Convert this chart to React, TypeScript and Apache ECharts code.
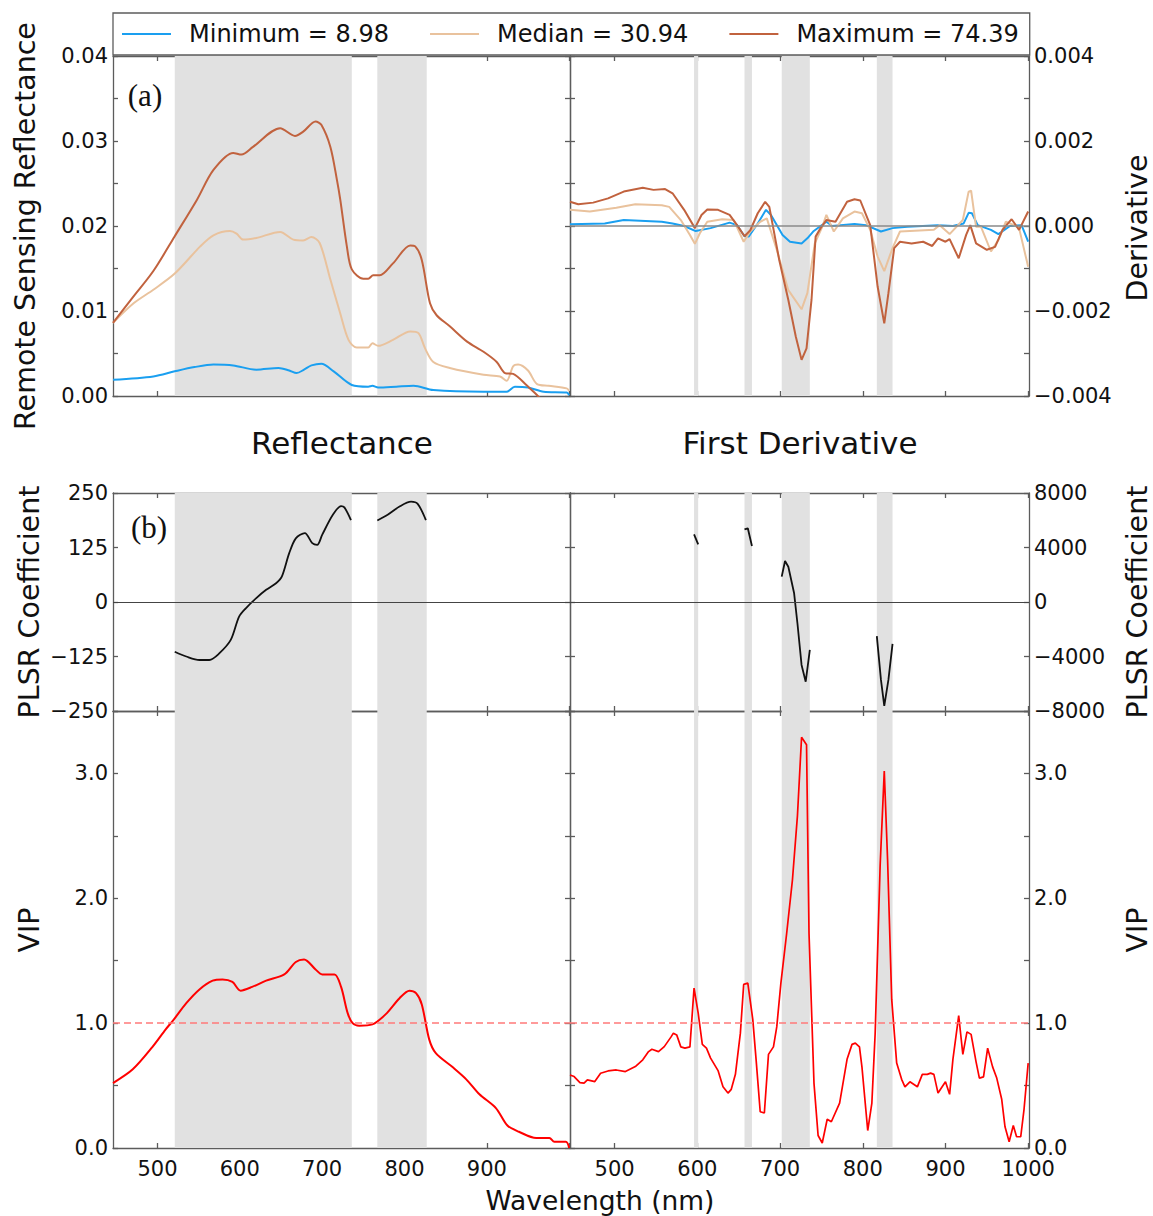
import React, { useEffect, useRef } from "react";
import * as echarts from "echarts";

const FONT = "DejaVu Sans";
const SERIF = "Liberation Serif";
const X_MIN = 446;
const X_MAX = 1001;

const NAME_MIN = "Minimum = 8.98";
const NAME_MED = "Median = 30.94";
const NAME_MAX = "Maximum = 74.39";

const COLOR_MIN = "#1A9FF0";
const COLOR_MED = "#E9C29D";
const COLOR_MAX = "#C1623E";

// ---------- shaded wavelength bands ----------
const bandsLeft = [[521, 736], [767, 827]];
const bandsRight = [[596, 601], [657, 666], [702, 736], [817, 836]];

// ---------- Reflectance (top-left) ----------
const reflMaxWl = [446, 470, 495, 521, 548, 568, 592, 602, 616, 649, 667, 677, 692, 699, 710, 718, 722, 730, 736, 750, 756, 762, 770, 786, 807, 813, 821, 831, 839, 855, 876, 896, 912, 922, 932, 948, 962, 975];
const reflMaxVal = [0.0086, 0.0116, 0.0147, 0.0188, 0.0231, 0.0266, 0.0286, 0.0284, 0.0293, 0.0315, 0.0306, 0.0311, 0.0323, 0.0319, 0.0293, 0.0254, 0.0231, 0.0176, 0.0149, 0.0138, 0.0138, 0.0142, 0.0142, 0.0156, 0.0177, 0.0176, 0.0160, 0.0109, 0.0095, 0.0082, 0.0064, 0.0052, 0.0040, 0.0027, 0.0026, 0.0013, 0.0000, -0.0012];

const reflMedWl = [446, 471, 495, 521, 552, 568, 588, 596, 604, 620, 649, 665, 677, 687, 697, 710, 722, 732, 742, 756, 761, 768, 786, 807, 817, 825, 835, 855, 896, 916, 924, 932, 938, 950, 961, 975, 997, 1000];
const reflMedVal = [0.0086, 0.0109, 0.0125, 0.0144, 0.0176, 0.0189, 0.0194, 0.0191, 0.0184, 0.0186, 0.0193, 0.0184, 0.0183, 0.0187, 0.0180, 0.0137, 0.0097, 0.0066, 0.0057, 0.0057, 0.0062, 0.0059, 0.0066, 0.0076, 0.0074, 0.0056, 0.0040, 0.0033, 0.0025, 0.0023, 0.0018, 0.0035, 0.0037, 0.0030, 0.0014, 0.0012, 0.0009, 0.0006];

const reflMinWl = [446, 495, 521, 545, 568, 592, 620, 647, 660, 669, 678, 687, 699, 714, 736, 756, 761, 768, 790, 811, 835, 896, 924, 934, 950, 969, 997, 1000];
const reflMinVal = [0.0019, 0.0023, 0.0029, 0.0034, 0.0037, 0.0036, 0.0031, 0.0033, 0.0030, 0.0027, 0.0031, 0.0036, 0.0038, 0.0029, 0.0013, 0.0011, 0.0012, 0.0010, 0.0011, 0.0012, 0.0007, 0.0005, 0.0005, 0.0011, 0.0010, 0.0005, 0.0004, 0.0001];

// ---------- First derivative (top-right) ----------
const derMaxWl = [446, 456, 474, 492, 511, 534, 547, 561, 570, 584, 597, 605, 612, 625, 639, 648, 657, 664, 673, 682, 687, 699, 710, 719, 726, 732, 738, 743, 749, 756, 767, 781, 790, 797, 809, 818, 826, 831, 838, 845, 859, 873, 884, 891, 900, 905, 916, 925, 930, 937, 950, 960, 969, 980, 989, 1000];
const derMaxVal = [0.00057, 0.00051, 0.00055, 0.00065, 0.00081, 0.00090, 0.00085, 0.00087, 0.00077, 0.00038, -0.00005, 0.00026, 0.00039, 0.00038, 0.00026, 0.00002, -0.00024, -0.00010, 0.00030, 0.00057, 0.00045, -0.00080, -0.00174, -0.00260, -0.00315, -0.00288, -0.00174, -0.00025, -0.00005, 0.00014, 0.00010, 0.00057, 0.00063, 0.00060, 0.00002, -0.00143, -0.00229, -0.00158, -0.00052, -0.00037, -0.00041, -0.00037, -0.00047, -0.00029, -0.00037, -0.00031, -0.00076, -0.00021, 0.00002, -0.00041, -0.00056, -0.00049, -0.00009, 0.00016, -0.00009, 0.00034];

const derMedWl = [446, 470, 502, 525, 557, 566, 580, 591, 597, 603, 612, 630, 644, 656, 664, 676, 684, 696, 710, 726, 733, 742, 751, 756, 765, 776, 790, 799, 809, 818, 826, 836, 845, 863, 886, 893, 905, 921, 928, 931, 937, 943, 955, 964, 973, 983, 989, 1000];
const derMedVal = [0.00038, 0.00034, 0.00043, 0.00051, 0.00049, 0.00045, 0.00014, -0.00021, -0.00042, -0.00017, 0.00010, 0.00016, 0.00014, -0.00037, -0.00013, 0.00010, 0.00018, -0.00056, -0.00151, -0.00196, -0.00158, -0.00041, -0.00002, 0.00026, -0.00013, 0.00018, 0.00034, 0.00030, -0.00009, -0.00072, -0.00106, -0.00052, -0.00013, -0.00011, -0.00009, 0.00002, -0.00019, 0.00014, 0.00081, 0.00083, -0.00002, -0.00002, -0.00060, -0.00033, 0.00010, 0.00002, -0.00005, -0.00096];

const derMinWl = [446, 488, 511, 557, 570, 584, 598, 616, 639, 648, 657, 662, 673, 683, 689, 703, 712, 726, 733, 740, 749, 756, 763, 790, 804, 822, 836, 854, 891, 909, 922, 928, 932, 939, 955, 964, 978, 992, 1000];
const derMinVal = [0.00004, 0.00006, 0.00014, 0.00010, 0.00006, 0.0, -0.00012, -0.00005, 0.00008, 0.00002, -0.00024, -0.00025, 0.00006, 0.00038, 0.00026, -0.00021, -0.00037, -0.00041, -0.00029, -0.00013, 0.0, 0.00010, 0.0, 0.00005, 0.00002, -0.00013, -0.00005, -0.00002, 0.00002, 0.0, 0.00006, 0.00031, 0.00030, 0.00002, -0.00009, -0.00019, 0.0, 0.00002, -0.00037];

// ---------- PLSR coefficients ----------
const plsrReflSeg1Wl = [521, 535, 551, 563, 575, 589, 599, 607, 620, 632, 644, 651, 660, 668, 679, 688, 694, 700, 713, 723, 727, 735];
const plsrReflSeg1Val = [-114, -125, -133, -133, -118, -87, -34, -15, 9, 28, 43, 58, 112, 146, 158, 135, 131, 154, 200, 220, 217, 188];
const plsrReflSeg2Wl = [767, 777, 794, 808, 816, 826];
const plsrReflSeg2Val = [187, 197, 219, 230, 225, 188];

const plsrDerSeg1Wl = [596, 601];
const plsrDerSeg1Val = [4970, 4230];
const plsrDerSeg2Wl = [657, 661, 666];
const plsrDerSeg2Val = [5330, 5410, 4110];
const plsrDerSeg3Wl = [702, 706, 710, 717, 721, 726, 731, 736];
const plsrDerSeg3Val = [1860, 3010, 2590, 640, -1560, -4620, -5850, -3520];
const plsrDerSeg4Wl = [817, 822, 826, 831, 836];
const plsrDerSeg4Val = [-2500, -5720, -7630, -5720, -3080];

// ---------- VIP ----------
const vipReflWl = [446, 470, 494, 510, 520, 535, 551, 567, 579, 591, 601, 615, 632, 654, 668, 678, 692, 700, 715, 723, 731, 737, 745, 761, 777, 794, 806, 814, 821, 830, 838, 858, 875, 891, 911, 925, 939, 960, 976, 982, 996, 1000];
const vipReflVal = [0.52, 0.63, 0.81, 0.95, 1.03, 1.16, 1.27, 1.34, 1.35, 1.33, 1.26, 1.29, 1.34, 1.39, 1.49, 1.51, 1.43, 1.39, 1.39, 1.29, 1.08, 1.0, 0.98, 0.99, 1.07, 1.20, 1.26, 1.24, 1.15, 0.87, 0.76, 0.65, 0.55, 0.43, 0.32, 0.18, 0.13, 0.08, 0.08, 0.05, 0.05, 0.0];

const vipDerWl = [446, 451, 458, 463, 467, 476, 483, 492, 502, 513, 525, 534, 541, 545, 553, 560, 568, 571, 575, 580, 585, 591, 596, 601, 606, 611, 616, 625, 631, 637, 641, 646, 652, 656, 661, 667, 671, 676, 681, 686, 692, 696, 701, 708, 715, 721, 726, 732, 735, 741, 746, 751, 757, 762, 772, 781, 787, 791, 796, 799, 806, 811, 815, 821, 826, 830, 835, 841, 847, 851, 857, 866, 872, 878, 882, 886, 891, 896, 900, 905, 909, 916, 921, 926, 931, 937, 941, 946, 951, 957, 962, 968, 972, 977, 982, 986, 991, 995, 1000];
const vipDerVal = [0.585, 0.572, 0.524, 0.519, 0.545, 0.532, 0.599, 0.617, 0.625, 0.612, 0.652, 0.706, 0.772, 0.791, 0.772, 0.812, 0.888, 0.92, 0.906, 0.81, 0.80, 0.81, 1.28, 1.08, 0.83, 0.80, 0.72, 0.62, 0.49, 0.44, 0.47, 0.59, 0.92, 1.31, 1.32, 1.03, 0.71, 0.29, 0.28, 0.75, 0.81, 0.97, 1.32, 1.72, 2.15, 2.66, 3.29, 3.23, 1.72, 0.52, 0.10, 0.04, 0.23, 0.21, 0.36, 0.71, 0.83, 0.84, 0.81, 0.65, 0.14, 0.36, 0.92, 2.26, 3.02, 2.31, 1.19, 0.68, 0.55, 0.49, 0.53, 0.49, 0.59, 0.59, 0.60, 0.59, 0.44, 0.49, 0.53, 0.43, 0.71, 1.06, 0.75, 0.93, 0.91, 0.69, 0.56, 0.57, 0.80, 0.65, 0.56, 0.39, 0.17, 0.05, 0.18, 0.09, 0.09, 0.31, 0.68];
const VIP_THRESHOLD = 1.0;

// ---------- axis ticks ----------
const xTicks = [500, 600, 700, 800, 900, 1000];
const xLabelsLeft = [500, 600, 700, 800, 900];
const xLabelsRight = [500, 600, 700, 800, 900, 1000];

const reflTicks = [0, 0.005, 0.01, 0.015, 0.02, 0.025, 0.03, 0.035, 0.04];
const reflLabels = [0, 0.01, 0.02, 0.03, 0.04];
const derTicks = [-0.004, -0.003, -0.002, -0.001, 0, 0.001, 0.002, 0.003, 0.004];
const derLabels = [-0.004, -0.002, 0, 0.002, 0.004];
const plsrReflTicks = [-250, -125, 0, 125, 250];
const plsrDerTicks = [-8000, -4000, 0, 4000, 8000];
const vipTicks = [0, 0.5, 1, 1.5, 2, 2.5, 3, 3.5];
const vipLabels = [0, 1, 2, 3];

const AX = "#5c5c5c";
const BAND = "#E1E1E1";

const zip = (xs: number[], ys: number[]) => xs.map((x, i) => [x, ys[i]]);
const minus = (s: string) => s.replace("-", "\u2212");

const grids = [
  { left: 113, top: 56, width: 457, height: 340 },
  { left: 570, top: 56, width: 459, height: 340 },
  { left: 113, top: 493, width: 457, height: 218 },
  { left: 570, top: 493, width: 459, height: 218 },
  { left: 113, top: 711, width: 457, height: 437 },
  { left: 570, top: 711, width: 459, height: 437 },
];

const labelStyle = { fontSize: 21, fontFamily: FONT, color: "#111" };

function makeXAxes(gi: number, labels: number[] | null) {
  const common: any = {
    type: "value",
    gridIndex: gi,
    min: X_MIN,
    max: X_MAX,
    splitLine: { show: false },
    axisLine: { show: true, onZero: false, lineStyle: { color: AX, width: 1.3 } },
    axisTick: { show: true, inside: true, length: 5, customValues: xTicks, lineStyle: { color: AX, width: 1.3 } },
  };
  return [
    {
      ...common,
      position: "bottom",
      axisLabel: labels
        ? { show: true, customValues: labels, margin: 10, ...labelStyle, formatter: (v: number) => String(v) }
        : { show: false },
    },
    { ...common, position: "top", axisLabel: { show: false } },
  ];
}

function makeYAxes(gi: number, min: number, max: number, ticks: number[], labels: number[], side: "left" | "right", fmt: (v: number) => string) {
  const common: any = {
    type: "value",
    gridIndex: gi,
    min,
    max,
    splitLine: { show: false },
    axisLine: { show: true, onZero: false, lineStyle: { color: AX, width: 1.3 } },
    axisTick: { show: true, inside: true, length: 5, customValues: ticks, lineStyle: { color: AX, width: 1.3 } },
  };
  const lab = { show: true, customValues: labels, margin: 5, ...labelStyle, formatter: fmt };
  return [
    { ...common, position: "left", axisLabel: side === "left" ? lab : { show: false } },
    { ...common, position: "right", axisLabel: side === "right" ? lab : { show: false } },
  ];
}

function bandSeries(gi: number, yIdx: number, bands: number[][]) {
  return {
    type: "line",
    xAxisIndex: gi * 2,
    yAxisIndex: yIdx,
    data: [],
    z: 1,
    silent: true,
    markArea: {
      silent: true,
      itemStyle: { color: BAND },
      data: bands.map((b) => [{ xAxis: b[0] }, { xAxis: b[1] }]),
    },
  };
}

function zeroSeries(gi: number, yIdx: number, color: string, width: number) {
  return {
    type: "line",
    xAxisIndex: gi * 2,
    yAxisIndex: yIdx,
    data: [],
    z: 2,
    silent: true,
    markLine: {
      silent: true,
      symbol: "none",
      label: { show: false },
      lineStyle: { color, width, type: "solid" },
      data: [{ yAxis: 0 }],
    },
  };
}

function lineSeries(gi: number, yIdx: number, data: number[][], color: string, width: number, name?: string, smooth: number | boolean = false) {
  return {
    type: "line",
    name,
    xAxisIndex: gi * 2,
    yAxisIndex: yIdx,
    data,
    symbol: "none",
    smooth,
    z: 3,
    lineStyle: { color, width },
    itemStyle: { color },
  };
}

function buildOption() {
  const fmt2 = (v: number) => v.toFixed(2);
  const fmt3 = (v: number) => minus(v.toFixed(3));
  const fmtInt = (v: number) => minus(String(Math.round(v)));
  const fmt1 = (v: number) => v.toFixed(1);

  const xAxis = [
    ...makeXAxes(0, null),
    ...makeXAxes(1, null),
    ...makeXAxes(2, null),
    ...makeXAxes(3, null),
    ...makeXAxes(4, xLabelsLeft),
    ...makeXAxes(5, xLabelsRight),
  ];
  const yAxis = [
    ...makeYAxes(0, 0, 0.04, reflTicks, reflLabels, "left", fmt2),
    ...makeYAxes(1, -0.004, 0.004, derTicks, derLabels, "right", fmt3),
    ...makeYAxes(2, -250, 250, plsrReflTicks, plsrReflTicks, "left", fmtInt),
    ...makeYAxes(3, -8000, 8000, plsrDerTicks, plsrDerTicks, "right", fmtInt),
    ...makeYAxes(4, 0, 3.5, vipTicks, vipLabels, "left", fmt1),
    ...makeYAxes(5, 0, 3.5, vipTicks, vipLabels, "right", fmt1),
  ];

  const vipMark = {
    silent: true,
    symbol: "none",
    label: { show: false },
    lineStyle: { color: "#FF7A7A", width: 1.5, type: [7, 4] },
    data: [{ yAxis: VIP_THRESHOLD }],
  };

  const series: any[] = [
    // top-left
    bandSeries(0, 0, bandsLeft),
    lineSeries(0, 0, zip(reflMinWl, reflMinVal), COLOR_MIN, 2, NAME_MIN, 0.3),
    lineSeries(0, 0, zip(reflMedWl, reflMedVal), COLOR_MED, 2, NAME_MED, 0.3),
    lineSeries(0, 0, zip(reflMaxWl, reflMaxVal), COLOR_MAX, 2, NAME_MAX, 0.3),
    // top-right
    bandSeries(1, 3, bandsRight),
    zeroSeries(1, 3, "#8a8a8a", 1.6),
    lineSeries(1, 3, zip(derMinWl, derMinVal), COLOR_MIN, 2, NAME_MIN),
    lineSeries(1, 3, zip(derMedWl, derMedVal), COLOR_MED, 2, NAME_MED),
    lineSeries(1, 3, zip(derMaxWl, derMaxVal), COLOR_MAX, 2, NAME_MAX),
    // middle-left
    bandSeries(2, 4, bandsLeft),
    zeroSeries(2, 4, "#444", 1.2),
    lineSeries(2, 4, zip(plsrReflSeg1Wl, plsrReflSeg1Val), "#111", 1.8, undefined, 0.3),
    lineSeries(2, 4, zip(plsrReflSeg2Wl, plsrReflSeg2Val), "#111", 1.8, undefined, 0.3),
    // middle-right
    bandSeries(3, 7, bandsRight),
    zeroSeries(3, 7, "#444", 1.2),
    lineSeries(3, 7, zip(plsrDerSeg1Wl, plsrDerSeg1Val), "#111", 1.8),
    lineSeries(3, 7, zip(plsrDerSeg2Wl, plsrDerSeg2Val), "#111", 1.8),
    lineSeries(3, 7, zip(plsrDerSeg3Wl, plsrDerSeg3Val), "#111", 1.8),
    lineSeries(3, 7, zip(plsrDerSeg4Wl, plsrDerSeg4Val), "#111", 1.8),
    // bottom-left
    bandSeries(4, 8, bandsLeft),
    { ...lineSeries(4, 8, zip(vipReflWl, vipReflVal), "#FF0000", 2, undefined, 0.3), markLine: vipMark },
    // bottom-right
    bandSeries(5, 11, bandsRight),
    { ...lineSeries(5, 11, zip(vipDerWl, vipDerVal), "#FF0000", 1.7), markLine: vipMark },
  ];

  const title = { fontSize: 28.5, fontFamily: FONT, fill: "#111" };
  const txt = (text: string, x: number, y: number, rot = 0, style: any = title) => ({
    type: "text",
    x,
    y,
    rotation: rot,
    silent: true,
    z: 10,
    style: { text, align: "center", verticalAlign: "middle", ...style },
  });
  const up = Math.PI / 2;
  const panelTitle = { fontSize: 31, fontFamily: FONT, fill: "#111" };

  const graphic = [
    txt("(a)", 145, 95, 0, { fontSize: 31, fontFamily: SERIF, fill: "#111" }),
    txt("(b)", 149, 527, 0, { fontSize: 31, fontFamily: SERIF, fill: "#111" }),
    txt("Reflectance", 342, 443, 0, panelTitle),
    txt("First Derivative", 800, 443, 0, panelTitle),
    txt("Wavelength (nm)", 600, 1200, 0, { fontSize: 26.5, fontFamily: FONT, fill: "#111" }),
    txt("Remote Sensing Reflectance", 25, 226, up),
    txt("PLSR Coefficient", 29, 602, up),
    txt("VIP", 29, 930, up),
    txt("Derivative", 1137, 228, up),
    txt("PLSR Coefficient", 1137, 602, up),
    txt("VIP", 1137, 930, up),
  ];

  return {
    animation: false,
    backgroundColor: "#ffffff",
    textStyle: { fontFamily: FONT },
    grid: grids.map((g) => ({ ...g, containLabel: false })),
    xAxis,
    yAxis,
    legend: {
      data: [NAME_MIN, NAME_MED, NAME_MAX],
      left: 113,
      top: 13,
      orient: "horizontal",
      icon: "rect",
      itemWidth: 49,
      itemHeight: 2,
      itemGap: 41,
      padding: [9, 11, 9, 9],
      borderColor: AX,
      borderWidth: 1.3,
      borderRadius: 0,
      selectedMode: false,
      textStyle: { fontSize: 24, fontFamily: FONT, color: "#111", padding: [0, 0, 0, 13] },
    },
    series,
    graphic,
  };
}

export default function App() {
  const ref = useRef<HTMLDivElement>(null);
  useEffect(() => {
    if (!ref.current) return;
    const chart = echarts.init(ref.current, undefined, { renderer: "svg" });
    chart.setOption(buildOption() as any);
    return () => chart.dispose();
  }, []);
  return (
    <div
      ref={ref}
      style={{ position: "absolute", left: 0, top: 0, width: 1153, height: 1216, background: "#fff" }}
    />
  );
}
